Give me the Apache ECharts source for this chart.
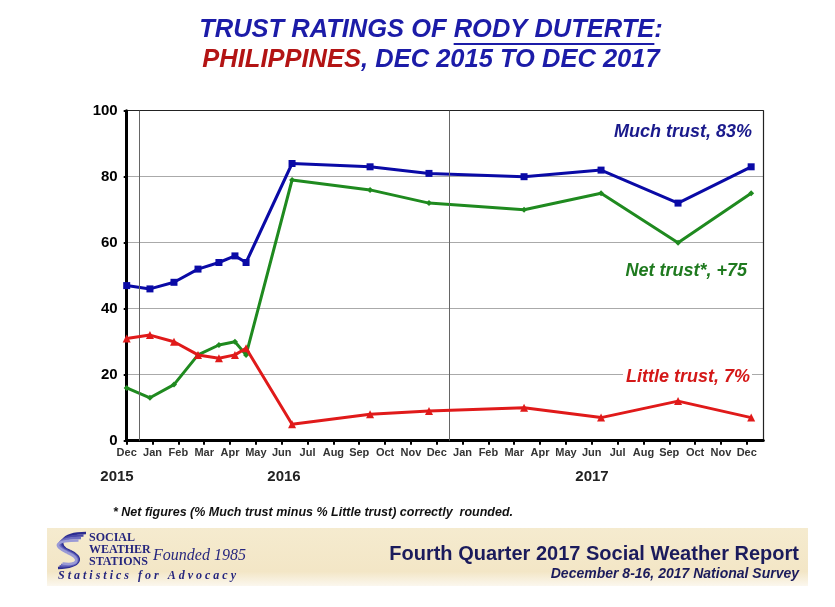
<!DOCTYPE html>
<html>
<head>
<meta charset="utf-8">
<script src="https://cdn.jsdelivr.net/npm/echarts@6/dist/echarts.min.js"></script>
<style>
html,body{margin:0;padding:0;background:#fff;}
#c{width:835px;height:607px;}
</style>
</head>
<body>
<div id="c"></div>
<script>
// ---- data ----
const monthLabels = ['Dec','Jan','Feb','Mar','Apr','May','Jun','Jul','Aug','Sep','Oct','Nov','Dec',
                     'Jan','Feb','Mar','Apr','May','Jun','Jul','Aug','Sep','Oct','Nov','Dec'];
const yearLabels = ['2015','2016','2017'];
const surveyMonths = [0, 0.9, 1.83, 2.76, 3.57, 4.19, 4.62, 6.4, 9.42, 11.7, 15.38, 18.36, 21.34, 24.17];
const muchTrust   = [47, 46, 48, 52, 54, 56, 54, 84, 83, 81, 80, 82, 72, 83];
const netTrust    = [16, 13, 17, 26, 29, 30, 26, 79, 76, 72, 70, 75, 60, 75];
const littleTrust = [31, 32, 30, 26, 25, 26, 28,  5,  8,  9, 10,  7, 12,  7];
const yearDividers = [0.5, 12.5];

const pair = arr => surveyMonths.map((m, i) => [m, arr[i]]);
const FONT = '"Liberation Sans", Arial, sans-serif';
const SERIF = '"Liberation Serif", "DejaVu Serif", serif';

// title measuring for underline
const TFS = 25.5;
const ctx = document.createElement('canvas').getContext('2d');
ctx.font = 'italic bold ' + TFS + 'px ' + FONT;
const t1a = 'TRUST RATINGS OF ', t1b = 'RODY DUTERTE', t1c = ':';
const wA = ctx.measureText(t1a).width, wB = ctx.measureText(t1b).width, wC = ctx.measureText(t1c).width;
const titleCx = 431;
const ulStart = titleCx - (wA + wB + wC) / 2 + wA;

// logo swoosh strokes
const swoosh = [0,1,2,3].map(i => {
  const col = ['#2b2b8f','#4848a8','#6e6ec0','#9a9ad6'][i];
  return [
    {type: 'bezierCurve', shape: {x1: 86 - i*2.5, y1: 533 + i*2.5, cpx1: 60 - i*2, cpy1: 533 + i*2.5, cpx2: 56 - i, cpy2: 546, x2: 70 - i, y2: 551 + i*0.5},
      style: {stroke: col, lineWidth: 2.6, fill: null}},
    {type: 'bezierCurve', shape: {x1: 70 - i, y1: 551 + i*0.5, cpx1: 84 - i, cpy1: 557 + i*0.5, cpx2: 82 - i, cpy2: 567 - i*0.5, x2: 58 + i*1.5, y2: 568 - i*1.5},
      style: {stroke: col, lineWidth: 2.6, fill: null}}
  ];
}).flat();

const chart = echarts.init(document.getElementById('c'), null, {renderer: 'canvas'});
const option = {
  backgroundColor: '#fff',
  animation: false,
  grid: {left: 126.7, right: 71.7, top: 110.7, bottom: 166.3, show: false},
  xAxis: {
    type: 'value', min: 0, max: 24.64,
    axisLine: {show: true, lineStyle: {color: '#000', width: 3}},
    axisTick: {show: true, customValues: monthLabels.map((_, i) => i), length: 4, lineStyle: {color: '#000', width: 2}},
    axisLabel: {customValues: monthLabels.map((_, i) => i), formatter: v => monthLabels[Math.round(v)],
      fontFamily: FONT, fontWeight: 'bold', fontSize: 11, color: '#333', margin: 7},
    splitLine: {show: false}
  },
  yAxis: [{
    type: 'value', min: 0, max: 100, interval: 20,
    axisLine: {show: true, lineStyle: {color: '#000', width: 3}},
    axisTick: {show: true, length: 3, lineStyle: {color: '#000', width: 2}},
    axisLabel: {fontFamily: FONT, fontWeight: 'bold', fontSize: 15, color: '#000', margin: 9},
    splitLine: {show: true, lineStyle: {color: ['#aaa','#aaa','#aaa','#aaa','#aaa','#222'], width: 1.2}}
  }, {
    type: 'value', min: 0, max: 100, interval: 20, position: 'right',
    axisLine: {show: true, lineStyle: {color: '#222', width: 1.2}},
    axisTick: {show: false}, axisLabel: {show: false}, splitLine: {show: false}
  }],
  series: [
    {
      name: 'Much trust', type: 'line', data: pair(muchTrust),
      symbol: 'rect', symbolSize: 7, lineStyle: {color: '#0a0aa6', width: 3},
      itemStyle: {color: '#0a0aa6'}, z: 3,
      markLine: {
        silent: true, symbol: ['none','none'], label: {show: false},
        lineStyle: {color: '#666', width: 1, type: 'solid'},
        data: yearDividers.map(v => ({xAxis: v}))
      }
    },
    {
      name: 'Net trust', type: 'line', data: pair(netTrust),
      symbol: 'diamond', symbolSize: 6, lineStyle: {color: '#1f8a1f', width: 3},
      itemStyle: {color: '#1f8a1f'}, z: 4
    },
    {
      name: 'Little trust', type: 'line', data: pair(littleTrust),
      symbol: 'triangle', symbolSize: 8, lineStyle: {color: '#e01a1a', width: 3},
      itemStyle: {color: '#e01a1a'}, z: 5
    }
  ],
  graphic: [
    // title
    {type: 'text', x: titleCx, y: 30, style: {
      text: '{b|' + t1a + t1b + t1c + '}', align: 'center', verticalAlign: 'middle',
      rich: {b: {font: 'italic bold ' + TFS + 'px ' + FONT, fill: '#1c1ca8'}}
    }},
    {type: 'line', shape: {x1: ulStart, y1: 44, x2: ulStart + wB, y2: 44}, style: {stroke: '#1c1ca8', lineWidth: 2}},
    {type: 'text', x: titleCx, y: 60, style: {
      text: '{r|PHILIPPINES}{b|, DEC 2015 TO DEC 2017}', align: 'center', verticalAlign: 'middle',
      rich: {r: {font: 'italic bold ' + TFS + 'px ' + FONT, fill: '#b31414'}, b: {font: 'italic bold ' + TFS + 'px ' + FONT, fill: '#1c1ca8'}}
    }},
    // series annotations
    {type: 'text', x: 752, y: 132, z: 10, style: {text: 'Much trust, 83%', align: 'right', verticalAlign: 'middle',
      font: 'italic bold 18px ' + FONT, fill: '#1a1a8c'}},
    {type: 'text', x: 747, y: 271, z: 10, style: {text: 'Net trust*, +75', align: 'right', verticalAlign: 'middle',
      font: 'italic bold 18px ' + FONT, fill: '#1f7a1f'}},
    {type: 'text', x: 752, y: 377, z: 10, style: {text: 'Little trust, 7%', align: 'right', verticalAlign: 'middle',
      font: 'italic bold 18px ' + FONT, fill: '#d41818', backgroundColor: '#fff', padding: [1, 2, 1, 3]}},
    // year labels
    {type: 'text', x: 117, y: 477, style: {text: yearLabels[0], align: 'center', verticalAlign: 'middle', font: 'bold 15px ' + FONT, fill: '#222'}},
    {type: 'text', x: 284, y: 477, style: {text: yearLabels[1], align: 'center', verticalAlign: 'middle', font: 'bold 15px ' + FONT, fill: '#222'}},
    {type: 'text', x: 592, y: 477, style: {text: yearLabels[2], align: 'center', verticalAlign: 'middle', font: 'bold 15px ' + FONT, fill: '#222'}},
    // footnote
    {type: 'text', x: 113, y: 513, style: {text: '* Net figures (% Much trust minus % Little trust) correctly  rounded.',
      align: 'left', verticalAlign: 'middle', font: 'italic bold 12.5px ' + FONT, fill: '#111'}},
    // banner
    {type: 'rect', shape: {x: 47, y: 528, width: 761, height: 58}, z: -1, style: {
      fill: new echarts.graphic.LinearGradient(0, 0, 0, 1, [
        {offset: 0, color: '#f5ebcf'}, {offset: 0.75, color: '#f3e6c6'}, {offset: 1, color: '#fbf7ee'}])
    }},
    {type: 'group', children: swoosh},
    {type: 'text', x: 89, y: 538, style: {text: 'SOCIAL', align: 'left', verticalAlign: 'middle', font: 'bold 12px ' + SERIF, fill: '#26267e'}},
    {type: 'text', x: 89, y: 550, style: {text: 'WEATHER', align: 'left', verticalAlign: 'middle', font: 'bold 12px ' + SERIF, fill: '#26267e'}},
    {type: 'text', x: 89, y: 562, style: {text: 'STATIONS', align: 'left', verticalAlign: 'middle', font: 'bold 12px ' + SERIF, fill: '#26267e'}},
    {type: 'text', x: 153, y: 556, style: {text: 'Founded 1985', align: 'left', verticalAlign: 'middle', font: 'italic 16px ' + SERIF, fill: '#26267e'}},
    {type: 'text', x: 58, y: 576, style: {text: 'S t a t i s t i c s   f o r   A d v o c a c y', align: 'left', verticalAlign: 'middle', font: 'italic bold 12px ' + SERIF, fill: '#26267e'}},
    {type: 'text', x: 799, y: 554, style: {text: 'Fourth Quarter 2017 Social Weather Report', align: 'right', verticalAlign: 'middle', font: 'bold 20px ' + FONT, fill: '#1b1b5c'}},
    {type: 'text', x: 799, y: 574, style: {text: 'December 8-16, 2017 National Survey', align: 'right', verticalAlign: 'middle', font: 'italic bold 14px ' + FONT, fill: '#1b1b5c'}}
  ]
};
chart.setOption(option);
</script>
</body>
</html>
